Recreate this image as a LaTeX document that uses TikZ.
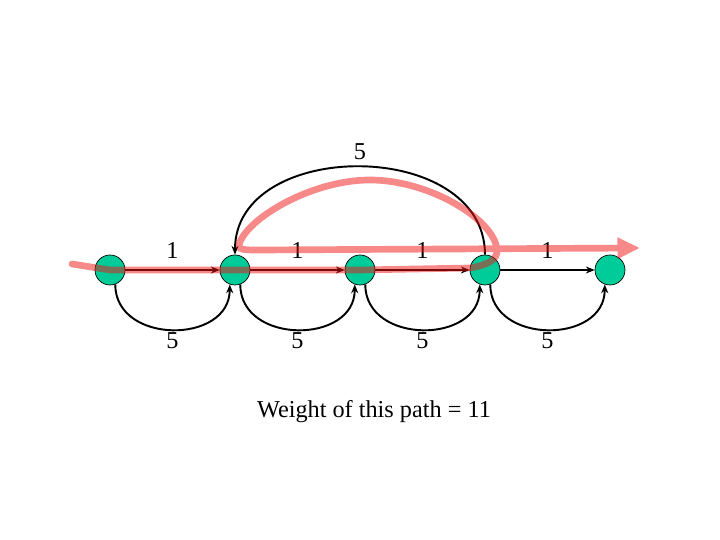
\documentclass[tikz,border=0pt]{standalone}
\usepackage{fontspec}
\setmainfont{Liberation Serif}
\usetikzlibrary{arrows.meta}
\definecolor{vertexgreen}{RGB}{0,204,153}
\definecolor{pathred}{RGB}{240,20,20}

\begin{document}
\begin{tikzpicture}[>={Stealth[length=5pt,width=4pt]},
  vertex/.style={circle, draw, fill=vertexgreen, minimum size=0.6cm, inner sep=0pt},
  edge/.style={->, line width=0.6pt},
  arc/.style={->, line width=1.1pt},
  lbl/.style={font=\fontsize{13.8}{16}\selectfont},
  hilite/.style={line width=3.8pt, draw=pathred, line join=round, line cap=round}]
  \useasboundingbox (0,0) rectangle (14.4,10.8);

  \coordinate (start) at (1.44,5.52);
  \coordinate (tip) at (12.8,5.84);

  \node[vertex] (v1) at (2.2,5.4) {};
  \node[vertex] (v2) at (4.7,5.4) {};
  \node[vertex] (v3) at (7.2,5.4) {};
  \node[vertex] (v4) at (9.7,5.4) {};
  \node[vertex] (v5) at (12.2,5.4) {};

  % straight edges, weight 1
  \draw[edge] (v1) -- node[lbl, above=3pt] (w12) {1} (v2);
  \draw[edge] (v2) -- node[lbl, above=3pt] (w23) {1} (v3);
  \draw[edge] (v3) -- node[lbl, above=3pt] (w34) {1} (v4);
  \draw[edge] (v4) -- node[lbl, above=3pt] (w45) {1} (v5);

  % arcs underneath, weight 5
  \draw[arc] (v1.-70) to[out=-90, in=-90, looseness=1.35] node[lbl, below=-2pt] (b12) {5} (v2.-110);
  \draw[arc] (v2.-70) to[out=-90, in=-90, looseness=1.35] node[lbl, below=-2pt] (b23) {5} (v3.-110);
  \draw[arc] (v3.-70) to[out=-90, in=-90, looseness=1.35] node[lbl, below=-2pt] (b34) {5} (v4.-110);
  \draw[arc] (v4.-70) to[out=-90, in=-90, looseness=1.35] node[lbl, below=-2pt] (b45) {5} (v5.-110);

  % back edge on top
  \draw[arc] (v4.north) to[out=90, in=90, looseness=1.2] node[lbl, above=0pt] (b42) {5} (v2.north);

  % the highlighted path
  \begin{scope}[transparency group, opacity=0.5]
  \draw[hilite, -{Triangle[length=0.45cm, width=0.4cm]}] (start) -- (v1.center) -- (v2.center) -- (v3.center)
    -- (9.4,5.44) .. controls (9.75,5.5) and (9.95,5.6) .. (9.94,5.8)
    .. controls (9.9,6.4) and (8.6,7.2) .. (7.4,7.2)
    .. controls (6.2,7.2) and (4.9,6.4) .. (4.78,5.9)
    .. controls (4.76,5.8) and (4.9,5.8) .. (5.2,5.8) -- (tip);
  \end{scope}

  \node[lbl] (caption) at (7.48,2.56) {Weight of this path = 11};
\end{tikzpicture}
\end{document}
